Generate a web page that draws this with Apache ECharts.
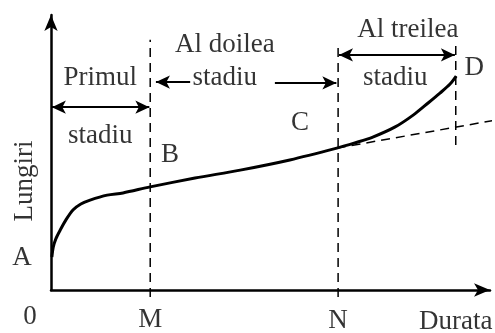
<!DOCTYPE html>
<html>
<head>
<meta charset="utf-8">
<script src="https://cdn.jsdelivr.net/npm/echarts@6/dist/echarts.min.js"></script>
<style>
  html, body { margin: 0; padding: 0; background: #fff; }
  #chart { width: 495px; height: 333px; }
</style>
</head>
<body>
<div id="chart"></div>
<script>
// curba de fluaj, de la A la D
const curveX = [0.02, 0.05, 0.11, 0.21, 0.34, 0.5, 0.68, 0.89, 1.28, 1.64, 2.26, 3.28, 4.31, 5.44, 6.51, 6.92, 7.33, 7.84, 8.25, 8.59, 8.86, 9.09, 9.23]
const curveY = [1.2, 1.55, 1.86, 2.18, 2.55, 2.91, 3.13, 3.27, 3.45, 3.53, 3.75, 4.07, 4.36, 4.73, 5.16, 5.35, 5.56, 5.93, 6.36, 6.8, 7.16, 7.49, 7.78]

// prelungirea (punctata) a portiunii liniare, din C
const tangentX = [6.51, 10.1]
const tangentY = [5.16, 6.17]

// liniile verticale punctate (M, N, sfarsitul stadiului 3)
const dividerX = [2.26, 6.54, 9.22]
const dividerFrom = [-0.25, -0.25, 5.27]
const dividerTo = [9.1, 8.98, 9.02]

// sageti orizontale
const arrowX1 = [0.02, 3.17, 5.1, 6.56]
const arrowX2 = [2.24, 2.39, 6.5, 9.2]
const arrowY = [6.65, 7.56, 7.53, 8.55]
const arrowBoth = [true, false, false, true]

// texte
const textNames = ['Primul', 'stadiu', 'Al doilea', 'stadiu', 'Al treilea', 'stadiu', 'A', 'B', 'C', 'D', '0', 'M', 'N', 'Durata']
const textX = [1.12, 1.12, 3.96, 3.96, 8.13, 7.84, -0.66, 2.71, 5.67, 9.64, -0.48, 2.26, 6.54, 9.22]
const textY = [7.71, 5.6, 8.91, 7.71, 9.45, 7.71, 1.16, 4.91, 6.07, 8.07, -0.98, -1.09, -1.13, -1.16]
const yName = 'Lungiri'
const yNameX = -0.59
const yNameY = 3.96

const FONT = 'Liberation Serif'

const chart = echarts.init(document.getElementById('chart'))

const axisLine = {
  show: true,
  symbol: ['none', 'arrow'],
  symbolSize: [10, 16],
  lineStyle: { color: '#000', width: 2.5 }
}

const dashed = { color: '#000', width: 1.5, type: [9, 6] }

const dividerSeries = dividerX.map((x, i) => ({
  type: 'line',
  data: [[x, dividerFrom[i]], [x, dividerTo[i]]],
  clip: false,
  showSymbol: false,
  lineStyle: dashed,
  silent: true
}))

const option = {
  animation: false,
  backgroundColor: '#fff',
  grid: { left: 51, right: 5, top: 15, bottom: 43 },
  xAxis: {
    type: 'value', min: 0, max: 10,
    axisLine: axisLine,
    axisTick: { show: false },
    axisLabel: { show: false },
    splitLine: { show: false }
  },
  yAxis: {
    type: 'value', min: 0, max: 10,
    axisLine: axisLine,
    axisTick: { show: false },
    axisLabel: { show: false },
    splitLine: { show: false }
  },
  series: [
    {
      // curba
      type: 'line',
      data: curveX.map((x, i) => [x, curveY[i]]),
      smooth: 0.3,
      showSymbol: false,
      lineStyle: { color: '#000', width: 3 },
      silent: true
    },
    {
      // tangenta punctata
      type: 'line',
      data: tangentX.map((x, i) => [x, tangentY[i]]),
      clip: false,
      showSymbol: false,
      lineStyle: dashed,
      silent: true
    },
    ...dividerSeries,
    {
      // sageti
      type: 'line',
      data: [],
      markLine: {
        silent: true,
        animation: false,
        label: { show: false },
        data: arrowX1.map((x, i) => [
          { coord: [x, arrowY[i]], symbol: arrowBoth[i] ? 'arrow' : 'none', symbolSize: [10, 14], lineStyle: { color: '#000', width: 2, type: 'solid' } },
          { coord: [arrowX2[i], arrowY[i]], symbol: 'arrow', symbolSize: [10, 14] }
        ])
      }
    },
    {
      // texte
      type: 'scatter',
      clip: false,
      symbolSize: 0,
      silent: true,
      data: textNames.map((n, i) => ({ name: n, value: [textX[i], textY[i]] })).concat([
        { name: yName, value: [yNameX, yNameY], label: { rotate: 90 } }
      ]),
      label: {
        show: true,
        position: 'inside',
        formatter: '{b}',
        color: '#000',
        fontFamily: FONT,
        fontSize: 27
      }
    }
  ]
}

chart.setOption(option)
</script>
</body>
</html>
